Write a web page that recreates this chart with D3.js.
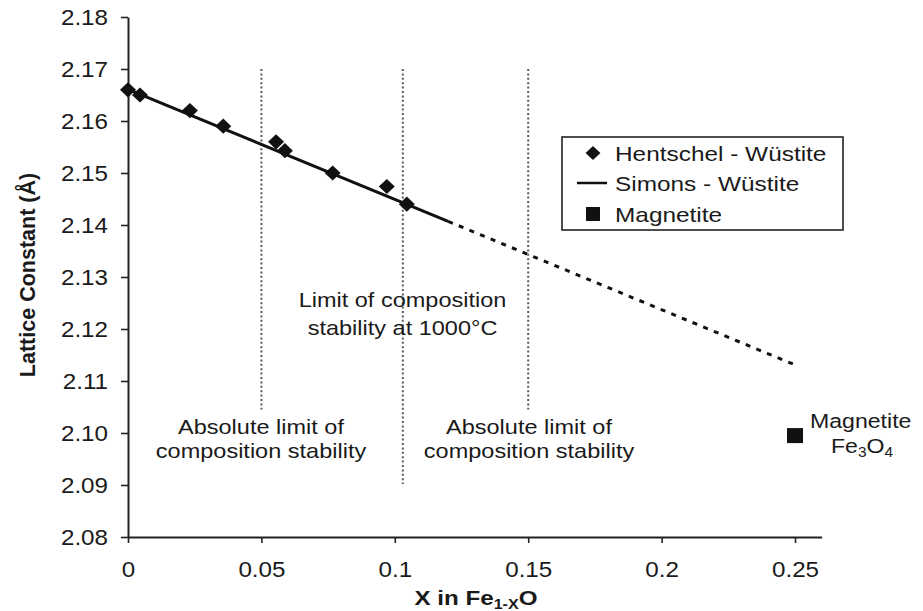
<!DOCTYPE html>
<html>
<head>
<meta charset="utf-8">
<script src="https://cdn.jsdelivr.net/npm/d3@7"></script>
<style>
  body { margin: 0; background: #fff; }
  svg { display: block; }
</style>
</head>
<body>
<svg id="chart" width="923" height="611"></svg>
<script>
// Hentschel measurements of wüstite lattice constant vs. X in Fe(1-X)O
const hentschelX = [0, 0.0045, 0.0232, 0.0357, 0.0555, 0.0588, 0.0767, 0.0970, 0.1045];
const hentschelY = [2.1660, 2.1650, 2.1620, 2.1590, 2.1560, 2.1543, 2.1500, 2.1474, 2.1440];

// Simons relation: measured range (solid) and its extrapolation (dashed)
const simonsSolidX = [0, 0.12];
const simonsSolidY = [2.1661, 2.1407];
const simonsDashX = [0.12, 0.25];
const simonsDashY = [2.1407, 2.1131];

// Magnetite reference point
const magnetiteX = [0.25];
const magnetiteY = [2.0995];

// Composition stability limits (vertical dotted markers)
const limitX = [0.05, 0.103, 0.15];
const limitTop = [2.17, 2.17, 2.17];
const limitBottom = [2.1045, 2.0902, 2.1045];

const xTicks = [0, 0.05, 0.1, 0.15, 0.2, 0.25];
const xTickLabels = ["0", "0.05", "0.1", "0.15", "0.2", "0.25"];
const yTicks = [2.08, 2.09, 2.10, 2.11, 2.12, 2.13, 2.14, 2.15, 2.16, 2.17, 2.18];
const yTickLabels = ["2.08", "2.09", "2.10", "2.11", "2.12", "2.13", "2.14", "2.15", "2.16", "2.17", "2.18"];

const legendLabels = ["Hentschel - Wüstite", "Simons - Wüstite", "Magnetite"];

const FONT = "'Liberation Sans', Arial, Helvetica, sans-serif";
const INK = "#1a1a1a";

const svg = d3.select("#chart");
svg.append("rect").attr("width", 923).attr("height", 611).attr("fill", "#fff");

const x = d3.scaleLinear().domain([0, 0.26]).range([128, 821.7]);
const y = d3.scaleLinear().domain([2.08, 2.18]).range([537, 17]);

// Diamond marker: square rotated 45 degrees
const diamond = {
  draw(ctx, size) {
    const r = Math.sqrt(size / 2);
    ctx.moveTo(0, -r * 0.95);
    ctx.lineTo(r, 0);
    ctx.lineTo(0, r * 0.95);
    ctx.lineTo(-r, 0);
    ctx.closePath();
  }
};

// Horizontally widened text, anchored at (px, py)
function wideText(parent, px, py, sx, size, anchor, weight) {
  return parent.append("g")
    .attr("transform", `translate(${px},${py}) scale(${sx},1)`)
    .append("text")
    .attr("text-anchor", anchor || "middle")
    .attr("font-family", FONT)
    .attr("font-size", size)
    .attr("font-weight", weight || "normal")
    .attr("fill", INK);
}

// Vertical dotted limit markers
svg.append("g").selectAll("line")
  .data(limitX.map((v, i) => ({ x: v, y0: limitBottom[i], y1: limitTop[i] })))
  .join("line")
  .attr("x1", d => x(d.x)).attr("x2", d => x(d.x))
  .attr("y1", d => y(d.y1)).attr("y2", d => y(d.y0))
  .attr("stroke", "#5a5a5a")
  .attr("stroke-width", 2)
  .attr("stroke-dasharray", "2,2.4");

// Axes
const xAxis = d3.axisBottom(x).tickValues(xTicks)
  .tickFormat((d, i) => xTickLabels[i]).tickSize(6).tickSizeOuter(0);
const yAxis = d3.axisLeft(y).tickValues(yTicks)
  .tickFormat((d, i) => yTickLabels[i]).tickSize(7).tickSizeOuter(0);

const gx = svg.append("g").attr("transform", "translate(0,537)").call(xAxis);
const gy = svg.append("g").attr("transform", "translate(128,0)").call(yAxis);

[gx, gy].forEach(g => {
  g.select(".domain").attr("stroke", "#222").attr("stroke-width", 2);
  g.selectAll(".tick line").attr("stroke", "#222").attr("stroke-width", 1.6);
  g.selectAll(".tick text")
    .attr("font-family", FONT).attr("font-size", 22).attr("fill", INK);
});
gx.selectAll(".tick text").attr("x", 0).attr("y", 0)
  .attr("transform", "translate(0,24) scale(1.1,1)");
gy.selectAll(".tick text").attr("x", 0)
  .attr("transform", "translate(-20,0) scale(1.1,1)");

// Simons line
const line = d3.line().x(d => x(d[0])).y(d => y(d[1]));
svg.append("path")
  .datum(simonsSolidX.map((v, i) => [v, simonsSolidY[i]]))
  .attr("d", line).attr("fill", "none")
  .attr("stroke", "#111").attr("stroke-width", 3);
svg.append("path")
  .datum(simonsDashX.map((v, i) => [v, simonsDashY[i]]))
  .attr("d", line).attr("fill", "none")
  .attr("stroke", "#111").attr("stroke-width", 3)
  .attr("stroke-dasharray", "5,6.5");

// Hentschel points
svg.append("g").selectAll("path")
  .data(hentschelX.map((v, i) => [v, hentschelY[i]]))
  .join("path")
  .attr("transform", d => `translate(${x(d[0])},${y(d[1])})`)
  .attr("d", d3.symbol(diamond, 128)())
  .attr("fill", "#111");

// Magnetite point
svg.append("g").selectAll("rect")
  .data(magnetiteX.map((v, i) => [v, magnetiteY[i]]))
  .join("rect")
  .attr("x", d => x(d[0]) - 8).attr("y", d => y(d[1]) - 7.5)
  .attr("width", 16).attr("height", 15)
  .attr("fill", "#111");

// Annotations
const ann = svg.append("g");
wideText(ann, 402.5, 307, 1.12, 21).text("Limit of composition");
wideText(ann, 402.5, 335, 1.12, 21).text("stability at 1000°C");
wideText(ann, 261, 434, 1.12, 21).text("Absolute limit of");
wideText(ann, 261, 458, 1.12, 21).text("composition stability");
wideText(ann, 529, 434, 1.12, 21).text("Absolute limit of");
wideText(ann, 529, 458, 1.12, 21).text("composition stability");
wideText(ann, 810, 428, 1.1, 21, "start").text("Magnetite");
const fe = wideText(ann, 862, 453, 1.1, 21);
fe.append("tspan").text("Fe");
fe.append("tspan").attr("font-size", 14).attr("dy", 4).text("3");
fe.append("tspan").attr("dy", -4).text("O");
fe.append("tspan").attr("font-size", 14).attr("dy", 4).text("4");

// Legend
const lg = svg.append("g");
lg.append("rect").attr("x", 562).attr("y", 137).attr("width", 281).attr("height", 93)
  .attr("fill", "#fff").attr("stroke", "#222").attr("stroke-width", 1.6);
const rowY = [153, 183, 214];
lg.append("path").attr("transform", `translate(593,${rowY[0]})`)
  .attr("d", d3.symbol(diamond, 110)()).attr("fill", "#111");
lg.append("line").attr("x1", 577).attr("x2", 607).attr("y1", rowY[1]).attr("y2", rowY[1])
  .attr("stroke", "#111").attr("stroke-width", 2.5);
lg.append("rect").attr("x", 586).attr("y", rowY[2] - 7).attr("width", 14).attr("height", 14)
  .attr("fill", "#111");
legendLabels.forEach((t, i) => {
  wideText(lg, 615, rowY[i] + 7.5, 1.22, 20, "start").text(t);
});

// Axis titles
const xt = wideText(svg, 476, 605, 1.15, 21, "middle", "bold");
xt.append("tspan").text("X in Fe");
xt.append("tspan").attr("font-size", 14).attr("dy", 4).text("1-X");
xt.append("tspan").attr("dy", -4).text("O");

svg.append("text")
  .attr("transform", "translate(35,275) rotate(-90)")
  .attr("text-anchor", "middle")
  .attr("font-family", FONT).attr("font-size", 21.5).attr("font-weight", "bold")
  .attr("fill", INK)
  .text("Lattice Constant (Å)");
</script>
</body>
</html>
